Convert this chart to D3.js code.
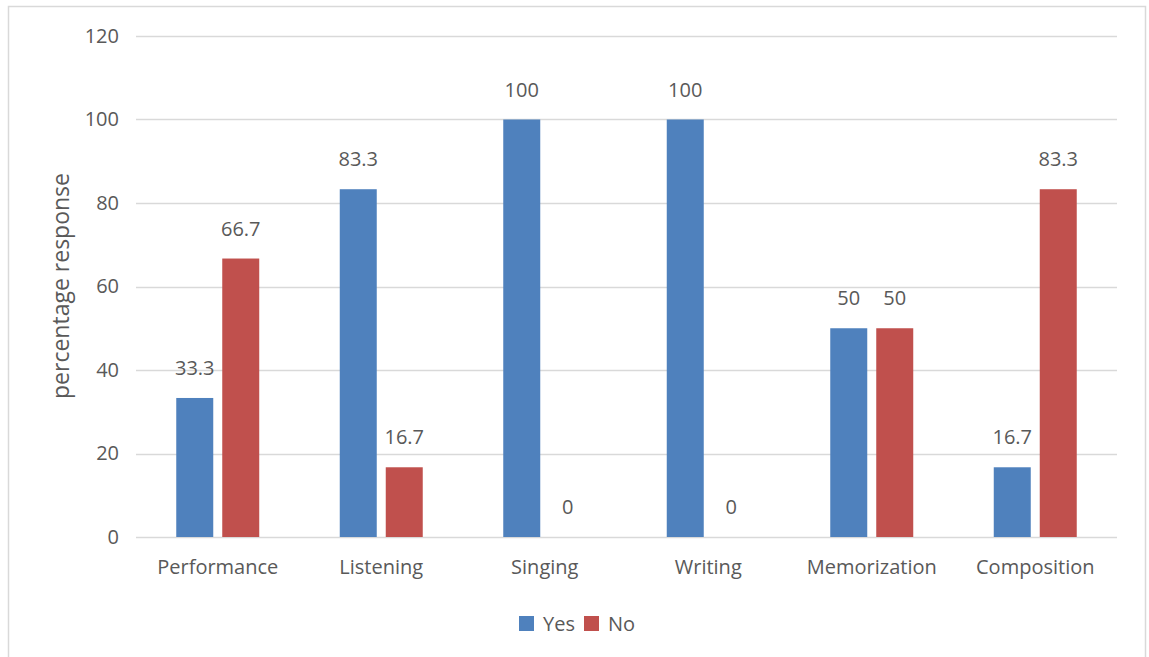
<!DOCTYPE html>
<html>
<head>
<meta charset="utf-8">
<script src="https://cdn.jsdelivr.net/npm/d3@7"></script>
<style>
  body { margin: 0; background: #fff; }
  text { font-family: "Open Sans", sans-serif; fill: #595959; }
</style>
</head>
<body>
<script>
    const categories = ["Performance", "Listening", "Singing", "Writing", "Memorization", "Composition"];
    const series = ["Yes", "No"];
    const yesValues = [33.3, 83.3, 100, 100, 50, 16.7];
    const noValues = [66.7, 16.7, 0, 0, 50, 83.3];
    const yTicks = [0, 20, 40, 60, 80, 100, 120];
    const colors = ["#4F81BD", "#C0504D"];

    const W = 1149, H = 657;

    // plot area
    const m = { top: 36, right: 32, bottom: 120, left: 136 };
    const w = W - m.left - m.right;
    const h = H - m.top - m.bottom;

    const svg = d3.select("body").append("svg")
        .attr("width", W)
        .attr("height", H);

    // outer chart border
    svg.append("rect")
        .attr("x", 8.5).attr("y", 6.5)
        .attr("width", 1137).attr("height", 680)
        .attr("fill", "none")
        .attr("stroke", "#d9d9d9")
        .attr("stroke-width", 1.5);

    const g = svg.append("g").attr("transform", "translate(" + m.left + "," + m.top + ")");

    const x0 = d3.scaleBand()
        .domain(categories)
        .range([0, w])
        .paddingInner(0.4924)
        .paddingOuter(0.2462);

    const x1 = d3.scaleBand()
        .domain(series)
        .range([0, x0.bandwidth()])
        .paddingInner(0.1957);

    const y = d3.scaleLinear()
        .domain([0, 120])
        .range([h, 0]);

    // gridlines
    g.append("g")
        .selectAll("line")
        .data(yTicks)
        .enter()
        .append("line")
        .attr("x1", 0).attr("x2", w)
        .attr("y1", d => Math.round(y(d)) + 0.5)
        .attr("y2", d => Math.round(y(d)) + 0.5)
        .attr("stroke", "#d9d9d9")
        .attr("stroke-width", 1.3);

    // y axis (labels only)
    const yAxis = d3.axisLeft(y).tickValues(yTicks).tickSize(0).tickPadding(17);
    const ya = g.append("g").call(yAxis);
    ya.select(".domain").remove();
    ya.selectAll("text").style("font-size", "20px").attr("fill", "#595959");

    // x axis (labels only)
    const xAxis = d3.axisBottom(x0).tickSize(0).tickPadding(23);
    const xa = g.append("g").attr("transform", "translate(0," + h + ")").call(xAxis);
    xa.select(".domain").remove();
    xa.selectAll("text").style("font-size", "20px").attr("fill", "#595959");

    const rows = categories.map((c, i) => ({ cat: c, vals: [yesValues[i], noValues[i]] }));

    const groups = g.selectAll(".grp")
        .data(rows)
        .enter()
        .append("g")
        .attr("class", "grp")
        .attr("transform", d => "translate(" + x0(d.cat) + ",0)");

    groups.selectAll("rect")
        .data(d => d.vals.map((v, j) => ({ s: series[j], v: v, j: j })))
        .enter()
        .append("rect")
        .attr("x", d => x1(d.s))
        .attr("y", d => y(d.v))
        .attr("width", x1.bandwidth())
        .attr("height", d => h - y(d.v))
        .attr("fill", d => colors[d.j]);

    // data labels
    groups.selectAll(".lbl")
        .data(d => d.vals.map((v, j) => ({ s: series[j], v: v })))
        .enter()
        .append("text")
        .attr("class", "lbl")
        .attr("x", d => x1(d.s) + x1.bandwidth() / 2)
        .attr("y", d => y(d.v) - 23)
        .attr("text-anchor", "middle")
        .style("font-size", "20px")
        .text(d => d.v);

    // y axis title
    svg.append("text")
        .attr("transform", "translate(69,286) rotate(-90)")
        .attr("text-anchor", "middle")
        .style("font-size", "23px")
        .text("percentage response");

    // legend
    const legend = svg.append("g").attr("transform", "translate(519,616)");
    const items = [{ s: "Yes", x: 0 }, { s: "No", x: 65 }];
    items.forEach((it, j) => {
        legend.append("rect")
            .attr("x", it.x).attr("y", 0)
            .attr("width", 15).attr("height", 15)
            .attr("fill", colors[j]);
        legend.append("text")
            .attr("x", it.x + 24).attr("y", 15)
            .style("font-size", "20px")
            .text(it.s);
    });
</script>
</body>
</html>
